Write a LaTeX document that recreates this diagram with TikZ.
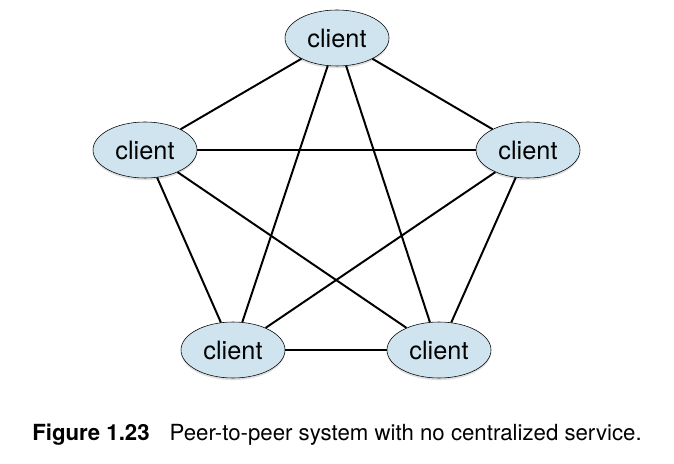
\documentclass[tikz,border=0pt]{standalone}
\usepackage{fontspec}
\setmainfont{TeX Gyre Heros}
\usepackage{xcolor}
\usetikzlibrary{shapes.geometric, shadows}
\definecolor{clientblue}{RGB}{207,228,239}
\tikzset{every node/.style={align=center}}

\begin{document}
\begin{tikzpicture}[
    x=0.025cm, y=-0.025cm,
    client/.style={ellipse, draw, thin, fill=clientblue, minimum width=2.6cm, minimum height=1.4cm,
                   inner sep=0pt, font=\fontsize{18}{20}\selectfont,
                   drop shadow={shadow xshift=0pt, shadow yshift=-1.5pt, opacity=0.25}},
    link/.style={line width=1.4pt}
]
  \useasboundingbox (0,0) rectangle (674,464);
  % Clients
  \node (C1) at (337, 38) [client] {client};
  \node (C2) at (145,150) [client] {client};
  \node (C3) at (528,150) [client] {client};
  \node (C4) at (233,350) [client] {client};
  \node (C5) at (439,350) [client] {client};
  % Links
  \foreach \a/\b in {C1/C2,C1/C3,C1/C4,C1/C5,C2/C3,C2/C4,C2/C5,C3/C4,C3/C5,C4/C5}
      \draw[link] (\a) -- (\b);
  % Caption
  \node[anchor=west, inner sep=0pt, font=\fontsize{15.8}{18}\selectfont] (cap) at (32,435)
      {\textbf{Figure 1.23}\hspace{0.9em}Peer-to-peer system with no centralized service.};
\end{tikzpicture}
\end{document}
